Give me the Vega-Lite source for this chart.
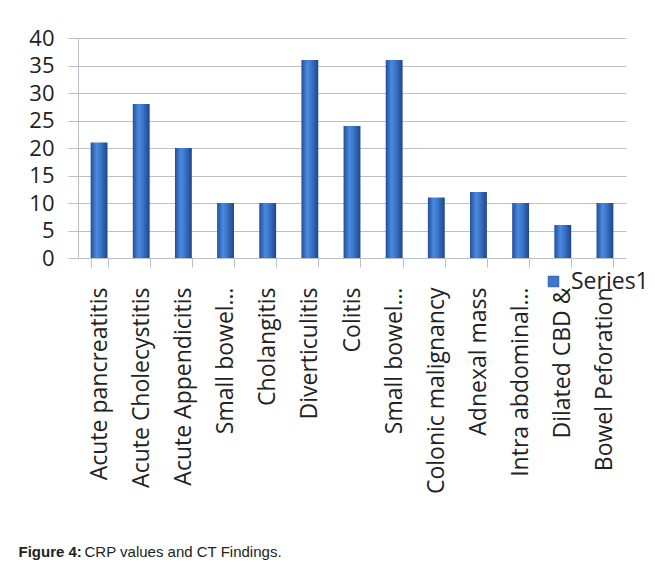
{
  "$schema": "https://vega.github.io/schema/vega-lite/v6.json",
  "width": 548,
  "height": 220,
  "autosize": {"type": "none"},
  "padding": {"left": 78, "top": 38, "right": 29, "bottom": 307},
  "background": "white",
  "config": {
    "view": {"stroke": null},
    "font": "Open Sans"
  },
  "data": {
    "values": [
      {"finding": "Acute pancreatitis", "crp": 21, "series": "Series1"},
      {"finding": "Acute Cholecystitis", "crp": 28, "series": "Series1"},
      {"finding": "Acute Appendicitis", "crp": 20, "series": "Series1"},
      {"finding": "Small bowel…", "crp": 10, "series": "Series1"},
      {"finding": "Cholangitis", "crp": 10, "series": "Series1"},
      {"finding": "Diverticulitis", "crp": 36, "series": "Series1"},
      {"finding": "Colitis", "crp": 24, "series": "Series1"},
      {"finding": "Small bowel… ", "crp": 36, "series": "Series1"},
      {"finding": "Colonic malignancy", "crp": 11, "series": "Series1"},
      {"finding": "Adnexal mass", "crp": 12, "series": "Series1"},
      {"finding": "Intra abdominal…", "crp": 10, "series": "Series1"},
      {"finding": "Dilated CBD &", "crp": 6, "series": "Series1"},
      {"finding": "Bowel Peforation", "crp": 10, "series": "Series1"}
    ]
  },
  "encoding": {
    "x": {
      "field": "finding",
      "type": "nominal",
      "sort": null,
      "scale": {"paddingInner": 0.6, "paddingOuter": 0.3},
      "axis": {
        "title": "CRP values and CT Findings.",
        "titleFont": "Liberation Sans",
        "titleFontSize": 15,
        "titleFontWeight": "normal",
        "titleColor": "#222",
        "titleAnchor": "start",
        "titleAlign": "left",
        "titleBaseline": "alphabetic",
        "titleX": 6,
        "titleY": 298,
        "labelAngle": -90,
        "labelAlign": "right",
        "labelBaseline": "middle",
        "labelPadding": 20,
        "labelFontSize": 23,
        "labelColor": "#222",
        "labelLimit": 400,
        "tickBand": "extent",
        "tickSize": 9,
        "tickColor": "#b8c0cc",
        "domainColor": "#b8c0cc",
        "grid": false
      }
    },
    "y": {
      "field": "crp",
      "type": "quantitative",
      "scale": {"domain": [0, 40], "nice": false},
      "axis": {
        "title": "Figure 4:",
        "titleFont": "Liberation Sans",
        "titleFontSize": 15,
        "titleFontWeight": "bold",
        "titleColor": "#222",
        "titleAngle": 0,
        "titleAlign": "left",
        "titleBaseline": "alphabetic",
        "titleX": -60,
        "titleY": 518,
        "values": [0, 5, 10, 15, 20, 25, 30, 35, 40],
        "labelFontSize": 22,
        "labelColor": "#222",
        "labelPadding": 14,
        "tickSize": 10,
        "tickColor": "#b8c0cc",
        "domainColor": "#b8c0cc",
        "gridColor": "#c0c0c0",
        "gridWidth": 1.2
      }
    }
  },
  "layer": [
    {
      "mark": {"type": "bar", "opacity": 0},
      "encoding": {
        "color": {
          "field": "series",
          "type": "nominal",
          "scale": {"range": ["#3a78d0"]},
          "legend": {
            "title": null,
            "orient": "none",
            "legendX": 464,
            "legendY": 232,
            "symbolType": "square",
            "symbolSize": 110,
            "symbolOpacity": 1,
            "symbolStrokeColor": "#2a5aa8",
            "symbolStrokeWidth": 1,
            "labelFontSize": 23,
            "labelColor": "#222",
            "labelOffset": 6
          }
        }
      }
    },
    {
      "mark": {
        "type": "bar",
        "fill": {
          "gradient": "linear",
          "x1": 0, "x2": 1, "y1": 0, "y2": 0,
          "stops": [
            {"offset": 0, "color": "#234f96"},
            {"offset": 0.35, "color": "#4a8ae0"},
            {"offset": 0.6, "color": "#3a74c8"},
            {"offset": 1, "color": "#1e4688"}
          ]
        }
      }
    }
  ]
}
